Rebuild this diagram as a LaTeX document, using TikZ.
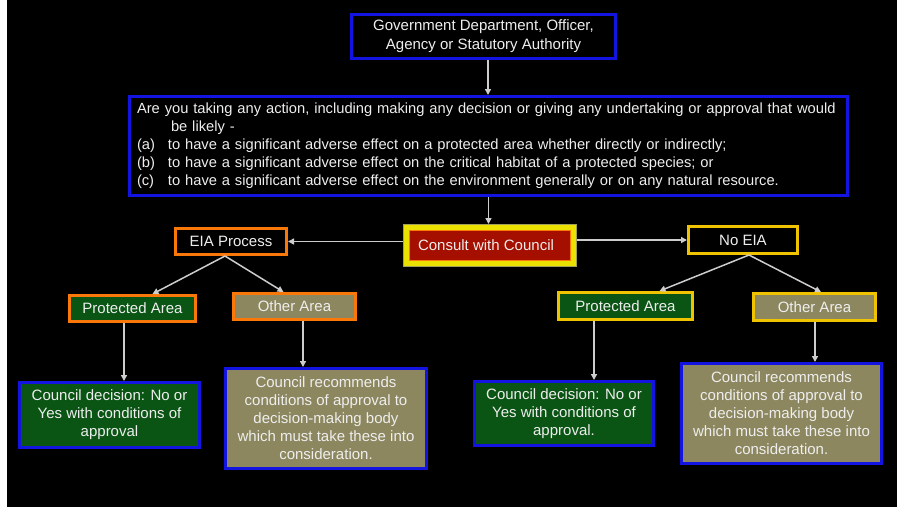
\documentclass[tikz,border=0pt]{standalone}
\usepackage{fontspec}
\setmainfont{Liberation Sans}
\usetikzlibrary{arrows.meta}
\definecolor{bblue}{RGB}{20,20,225}
\definecolor{borange}{RGB}{250,120,10}
\definecolor{bgold}{RGB}{240,195,0}
\definecolor{cyellow}{RGB}{235,225,0}
\definecolor{colive}{RGB}{160,160,90}
\definecolor{cred}{RGB}{165,15,0}
\definecolor{fgreen}{RGB}{10,85,20}
\definecolor{fkhaki}{RGB}{140,135,95}
\definecolor{txt}{RGB}{238,238,238}
\definecolor{lnk}{RGB}{205,205,205}
\begin{document}
\begin{tikzpicture}[x=1pt,y=-1pt,
  every node/.style={font=\fontsize{15}{18}\selectfont, text=txt, inner sep=0pt},
  bx/.style={draw, line width=3pt, rectangle, align=center},
  bluebx/.style={bx, draw=bblue},
  orbx/.style={bx, draw=borange},
  gdbx/.style={bx, draw=bgold},
  arr/.style={draw=lnk, line width=1.5pt, -{Triangle[length=6pt,width=6pt]}}
]
\useasboundingbox (0,0) rectangle (897,507);
\fill[white] (0,0) rectangle (897,507);
\fill[black] (7,0) rectangle (897,507);

\node[bluebx, fill=black, minimum width=264, minimum height=44, font=\fontsize{15}{19}\selectfont]
  (gov) at (483.5,36.5) {Government Department, Officer,\\Agency or Statutory Authority};

\node[bluebx, fill=black, minimum width=718, minimum height=99, text width=703, inner xsep=7.5, align=left,
  font=\fontsize{14.7}{18}\selectfont]
  (q) at (488.5,146) {\mbox{Are you taking any action, including making any decision or giving any undertaking or approval that would}\\
  \hspace*{34pt}be likely -\\
  \makebox[31pt][l]{(a)}to have a significant adverse effect on a protected area whether directly or indirectly;\\
  \makebox[31pt][l]{(b)}to have a significant adverse effect on the critical habitat of a protected species; or\\
  \makebox[31pt][l]{(c)}to have a significant adverse effect on the environment generally or on any natural resource.};

\node[draw=cyellow, fill=cred, line width=6pt, minimum width=168, minimum height=37]
  (consult) at (490,245.5) {\hspace*{-8pt}Consult with Council};
\draw[colive, line width=1.2pt] ([shift={(0.6pt,-0.6pt)}]consult.north west) rectangle ([shift={(-0.6pt,0.6pt)}]consult.south east);
\draw[borange, line width=1pt] ([shift={(6.5pt,-6.5pt)}]consult.north west) rectangle ([shift={(-6.5pt,6.5pt)}]consult.south east);

\node[orbx, fill=black, minimum width=111, minimum height=26] (eia) at (231,241.5) {EIA Process};
\node[gdbx, fill=black, minimum width=109, minimum height=27] (noeia) at (743,240) {No EIA};

\node[orbx, fill=fgreen, minimum width=126, minimum height=26] (pa1) at (132.5,308.5) {Protected Area};
\node[orbx, fill=fkhaki, minimum width=122, minimum height=26] (oa1) at (294.5,306.5) {Other Area};
\node[gdbx, fill=fgreen, minimum width=134, minimum height=27] (pa2) at (625.5,306) {Protected Area};
\node[gdbx, fill=fkhaki, minimum width=122, minimum height=27] (oa2) at (814.5,307) {Other Area};

\node[bluebx, fill=fgreen, minimum width=180, minimum height=65] (cd1) at (109.5,415)
  {Council decision: No or\\Yes with conditions of\\approval};
\node[bluebx, fill=fkhaki, minimum width=201, minimum height=100] (rec1) at (326,418.5)
  {Council recommends\\conditions of approval to\\decision-making body\\which must take these into\\consideration.};
\node[bluebx, fill=fgreen, minimum width=179, minimum height=64] (cd2) at (564,413.5)
  {Council decision: No or\\Yes with conditions of\\approval.};
\node[bluebx, fill=fkhaki, minimum width=200, minimum height=100] (rec2) at (781.5,413.5)
  {Council recommends\\conditions of approval to\\decision-making body\\which must take these into\\consideration.};

\draw[arr] ([xshift=4.5]gov.south) -- ([xshift=4.5]gov.south |- q.north);
\draw[arr] (q.south) -- (q.south |- consult.north);
\draw[arr] (eia.east -| consult.west) -- (eia.east);
\draw[arr] (noeia.west -| consult.east) -- (noeia.west);
\draw[arr] ([xshift=-6]eia.south) -- ([xshift=20]pa1.north);
\draw[arr] ([xshift=-6]eia.south) -- ([xshift=-11]oa1.north);
\draw[arr] ([xshift=6]noeia.south) -- ([xshift=34]pa2.north);
\draw[arr] ([xshift=6]noeia.south) -- ([xshift=6.5]oa2.north);
\draw[arr] ([xshift=-8.5]pa1.south) -- ([xshift=-8.5]pa1.south |- cd1.north);
\draw[arr] ([xshift=8.5]oa1.south) -- ([xshift=8.5]oa1.south |- rec1.north);
\draw[arr] ([xshift=-31.5]pa2.south) -- ([xshift=-31.5]pa2.south |- cd2.north);
\draw[arr] ([xshift=0.5]oa2.south) -- ([xshift=0.5]oa2.south |- rec2.north);
\end{tikzpicture}
\end{document}
